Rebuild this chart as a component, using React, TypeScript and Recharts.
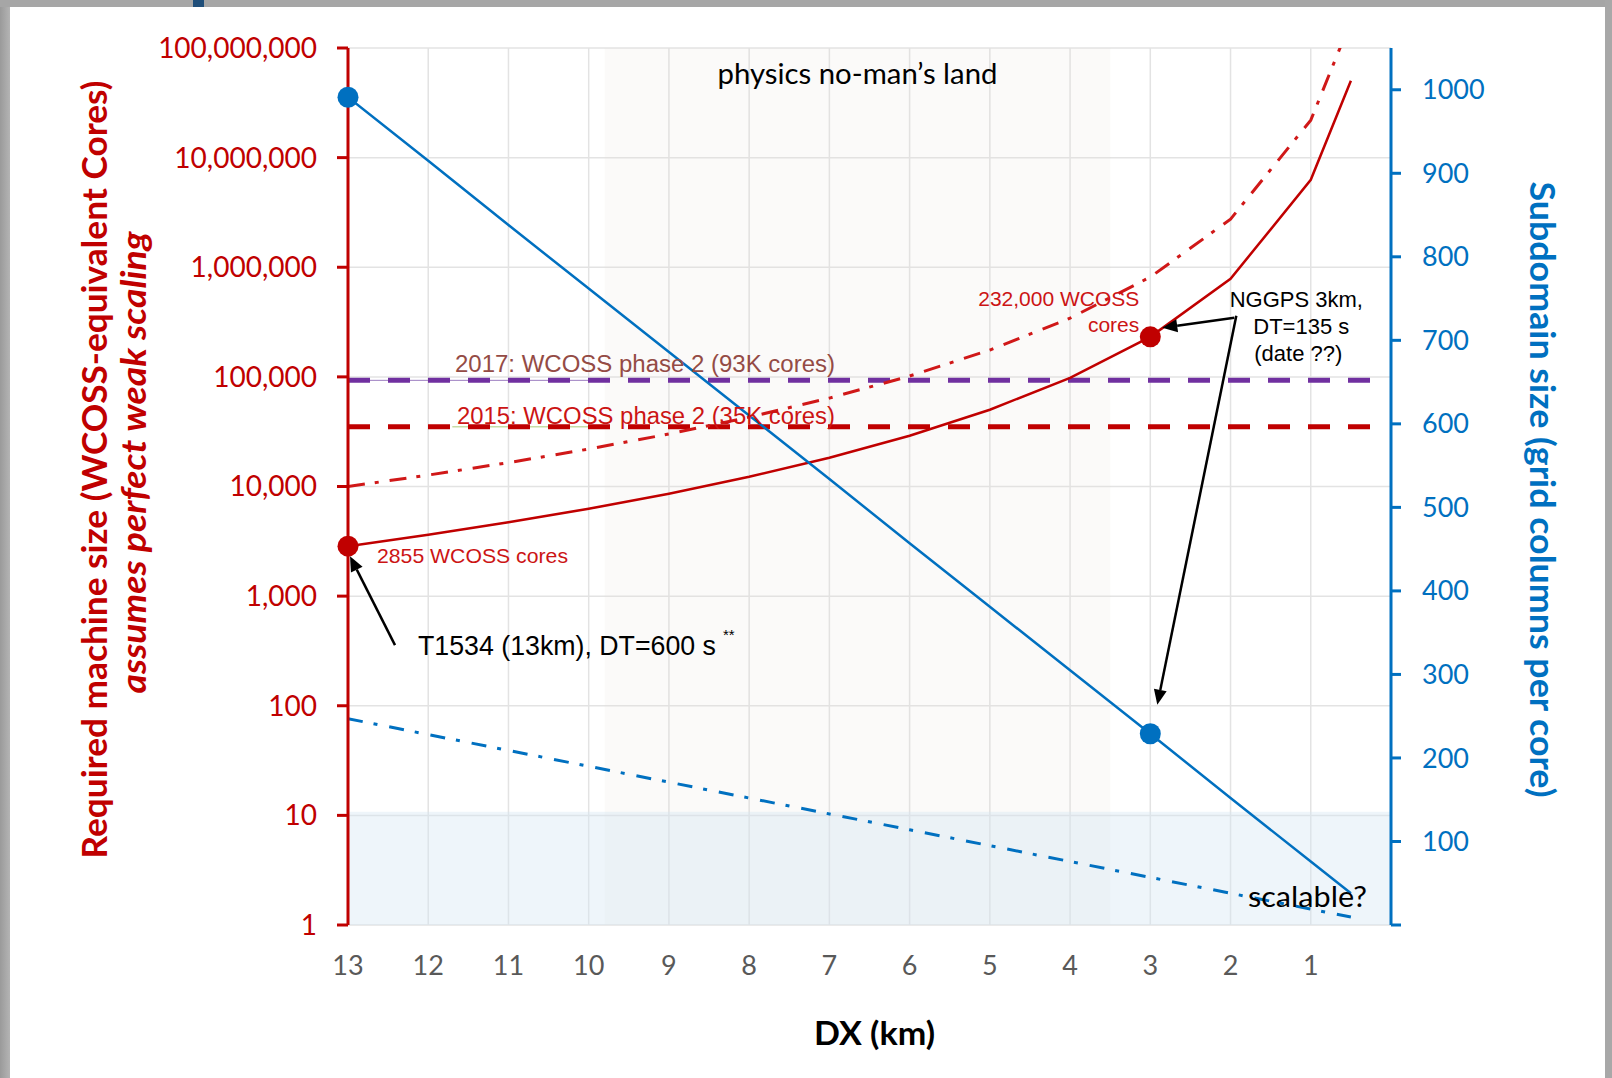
import React from 'react';
import {
  ComposedChart,
  Line,
  XAxis,
  YAxis,
  CartesianGrid,
  ReferenceArea,
  ReferenceLine,
  ReferenceDot,
} from 'recharts';

// ---------- data ----------
const DX = [13, 12, 11, 10, 9, 8, 7, 6, 5, 4, 3, 2, 1, 0.5];
const CORES = [2855, 3630, 4713, 6272, 8604, 12251, 18287, 29039, 50180, 98011, 232000, 784000, 6272000, 50180000];
const CORES_UPPER = [10000, 12714, 16506, 21970, 30137, 42910, 64050, 101710, 175760, 343300, 813700, 2746000, 21970000, 175760000];
const SUBDOMAIN = [991, 915, 838, 762, 686, 610, 534, 457, 381, 305, 229, 152, 76, 38];
const SUBDOMAIN_LOW = [247, 228, 209, 190, 171, 152, 133, 114, 95, 76, 57, 38, 19, 9.5];

const X_TICKS = [13, 12, 11, 10, 9, 8, 7, 6, 5, 4, 3, 2, 1];
const LEFT_TICKS = [1, 10, 100, 1000, 10000, 100000, 1000000, 10000000, 100000000];
const RIGHT_TICKS = [0, 100, 200, 300, 400, 500, 600, 700, 800, 900, 1000];

const WCOSS_2017 = 93000;
const WCOSS_2015 = 35000;
const LIMIT_SPAN = [13, 0.25];
const NO_MANS_LAND = [9.8, 3.5];
const SCALABLE_TOP = 10.8;

// ---------- styles ----------
const RED = '#C00000';
const NOTE_RED = '#CC1414';
const BLUE = '#0070C0';
const PURPLE = '#7030A0';
const CAL = "Lato, 'Open Sans', sans-serif";
const ARIAL = "'Liberation Sans', Arial, sans-serif";

const rows = DX.map((dx, i) => ({
  dx,
  cores: CORES[i],
  coresUpper: CORES_UPPER[i],
  sub: SUBDOMAIN[i],
  subLow: SUBDOMAIN_LOW[i],
}));

const arrowShape = (cx: number, cy: number, s: [number, number], t: [number, number]) => {
  const x1 = cx + s[0];
  const y1 = cy + s[1];
  const x2 = cx + t[0];
  const y2 = cy + t[1];
  const a = Math.atan2(y2 - y1, x2 - x1);
  const L = 15;
  const W = 6.5;
  const bx = x2 - L * Math.cos(a);
  const by = y2 - L * Math.sin(a);
  const px = -Math.sin(a) * W;
  const py = Math.cos(a) * W;
  return (
    <g>
      <line x1={x1} y1={y1} x2={bx} y2={by} stroke="#000" strokeWidth={2.5} />
      <polygon points={`${x2},${y2} ${bx + px},${by + py} ${bx - px},${by - py}`} fill="#000" />
    </g>
  );
};

const anchor = (
  key: string,
  x: number,
  y: number,
  axis: string,
  render: (cx: number, cy: number) => React.ReactElement,
) => (
  <ReferenceDot
    key={key}
    x={x}
    y={y}
    yAxisId={axis}
    r={1}
    fill="none"
    stroke="none"
    ifOverflow="visible"
    shape={(p: any) => render(p.cx, p.cy)}
  />
);

const LeftTitle = (props: any) => {
  const vb = props.viewBox || { x: 0, y: 48, width: 348, height: 877 };
  const cy1 = vb.y + vb.height / 2 - 17;
  const cy2 = vb.y + vb.height / 2 - 24;
  const x1 = vb.x + 107;
  const x2 = vb.x + 146;
  return (
    <g>
      <text
        x={x1}
        y={cy1}
        transform={`rotate(-90, ${x1}, ${cy1})`}
        textAnchor="middle"
        fill={RED}
        fontFamily={CAL}
        fontWeight={700}
        fontSize={34}
        textLength={778}
        lengthAdjust="spacingAndGlyphs"
      >
        Required machine size (WCOSS-equivalent Cores)
      </text>
      <text
        x={x2}
        y={cy2}
        transform={`rotate(-90, ${x2}, ${cy2})`}
        textAnchor="middle"
        fill={RED}
        fontFamily={CAL}
        fontWeight={700}
        fontStyle="italic"
        fontSize={34}
        textLength={462}
        lengthAdjust="spacingAndGlyphs"
      >
        assumes perfect weak scaling
      </text>
    </g>
  );
};

const RightTitle = (props: any) => {
  const vb = props.viewBox || { x: 1391, y: 48, width: 221, height: 877 };
  const cy = vb.y + vb.height / 2 + 3;
  const x = vb.x + 139;
  return (
    <text
      x={x}
      y={cy}
      transform={`rotate(90, ${x}, ${cy})`}
      textAnchor="middle"
      fill={BLUE}
      fontFamily={CAL}
      fontWeight={700}
      fontSize={34}
      textLength={616}
      lengthAdjust="spacingAndGlyphs"
    >
      Subdomain size (grid columns per core)
    </text>
  );
};

const XTitle = (props: any) => {
  const vb = props.viewBox || { x: 348, y: 925, width: 1043, height: 60 };
  return (
    <text
      x={vb.x + vb.width / 2 + 5}
      y={vb.y + 120}
      textAnchor="middle"
      fill="#000"
      fontFamily={CAL}
      fontWeight={700}
      fontSize={32}
      textLength={121}
      lengthAdjust="spacingAndGlyphs"
    >
      DX (km)
    </text>
  );
};

export default function App() {
  return (
    <div style={{ position: 'absolute', left: 0, top: 0, width: 1612, height: 1078, background: '#fff' }}>
      <ComposedChart
        width={1612}
        height={1078}
        data={rows}
        margin={{ top: 48, right: 0, bottom: 93, left: 0 }}
      >
        <CartesianGrid yAxisId="left" stroke="#E3E3E3" strokeWidth={1.5} />
        <XAxis
          dataKey="dx"
          type="number"
          domain={[0, 13]}
          reversed
          ticks={X_TICKS}
          allowDataOverflow
          axisLine={false}
          tickLine={false}
          height={60}
          tickMargin={25}
          tick={{ fill: '#595959', fontSize: 27, fontFamily: CAL }}
          label={{ content: (p: any) => <XTitle {...p} /> }}
        />
        <YAxis
          yAxisId="left"
          scale="log"
          domain={[1, 100000000]}
          ticks={LEFT_TICKS}
          allowDataOverflow
          width={348}
          axisLine={{ stroke: RED, strokeWidth: 3 }}
          tickLine={{ stroke: RED, strokeWidth: 3 }}
          tickSize={11}
          tickMargin={20}
          tick={{ fill: RED, fontSize: 28, fontFamily: CAL }}
          tickFormatter={(v: number) => v.toLocaleString('en-US')}
          label={{ content: (p: any) => <LeftTitle {...p} /> }}
        />
        <YAxis
          yAxisId="right"
          orientation="right"
          domain={[0, 1050]}
          ticks={RIGHT_TICKS}
          allowDataOverflow
          width={221}
          axisLine={{ stroke: BLUE, strokeWidth: 3 }}
          tickLine={{ stroke: BLUE, strokeWidth: 3 }}
          tickSize={10}
          tickMargin={21}
          tick={{ fill: BLUE, fontSize: 27, fontFamily: CAL }}
          tickFormatter={(v: number) => (v === 0 ? '' : String(v))}
          label={{ content: (p: any) => <RightTitle {...p} /> }}
        />

        <ReferenceArea
          yAxisId="left"
          x1={NO_MANS_LAND[0]}
          x2={NO_MANS_LAND[1]}
          y1={1}
          y2={100000000}
          fill="#E6DDD6"
          fillOpacity={0.14}
          stroke="none"
        />
        <ReferenceArea
          yAxisId="left"
          x1={13}
          x2={0}
          y1={1}
          y2={SCALABLE_TOP}
          fill="#D4E6F3"
          fillOpacity={0.4}
          stroke="none"
        />

        <ReferenceLine
          yAxisId="left"
          segment={[{ x: 13, y: WCOSS_2017 }, { x: 10, y: WCOSS_2017 }]}
          stroke="#9C7CC0"
          strokeWidth={1}
        />
        <ReferenceLine
          yAxisId="left"
          segment={[{ x: 11.7, y: WCOSS_2015 }, { x: 10, y: WCOSS_2015 }]}
          stroke="#C6DDA8"
          strokeWidth={1.5}
        />
        <ReferenceLine
          yAxisId="left"
          segment={[{ x: LIMIT_SPAN[0], y: WCOSS_2017 }, { x: LIMIT_SPAN[1], y: WCOSS_2017 }]}
          stroke={PURPLE}
          strokeWidth={5}
          strokeDasharray="22 18"
        />
        <ReferenceLine
          yAxisId="left"
          segment={[{ x: LIMIT_SPAN[0], y: WCOSS_2015 }, { x: LIMIT_SPAN[1], y: WCOSS_2015 }]}
          stroke={RED}
          strokeWidth={5}
          strokeDasharray="22 18"
        />

        <Line
          yAxisId="left"
          type="linear"
          dataKey="coresUpper"
          stroke="#D01818"
          strokeWidth={3}
          strokeDasharray="17 10 4 11"
          dot={false}
          activeDot={false}
          isAnimationActive={false}
        />
        <Line
          yAxisId="left"
          type="linear"
          dataKey="cores"
          stroke={RED}
          strokeWidth={2.5}
          dot={false}
          activeDot={false}
          isAnimationActive={false}
        />
        <Line
          yAxisId="right"
          type="linear"
          dataKey="subLow"
          stroke={BLUE}
          strokeWidth={3}
          strokeDasharray="15 11 4 12"
          dot={false}
          activeDot={false}
          isAnimationActive={false}
        />
        <Line
          yAxisId="right"
          type="linear"
          dataKey="sub"
          stroke={BLUE}
          strokeWidth={2.5}
          dot={false}
          activeDot={false}
          isAnimationActive={false}
        />

        <ReferenceDot yAxisId="left" x={DX[0]} y={CORES[0]} r={10.5} fill={RED} stroke="none" />
        <ReferenceDot yAxisId="left" x={DX[10]} y={CORES[10]} r={10.5} fill={RED} stroke="none" />
        <ReferenceDot yAxisId="right" x={DX[0]} y={SUBDOMAIN[0]} r={10.5} fill={BLUE} stroke="none" />
        <ReferenceDot yAxisId="right" x={DX[10]} y={SUBDOMAIN[10]} r={10.5} fill={BLUE} stroke="none" />

        {anchor('nml', (NO_MANS_LAND[0] + NO_MANS_LAND[1]) / 2, 100000000, 'left', (cx, cy) => (
          <text x={cx} y={cy + 36} textAnchor="middle" fill="#000" fontFamily={CAL} fontSize={28} textLength={280} lengthAdjust="spacingAndGlyphs">
            physics no-man’s land
          </text>
        ))}
        {anchor('l2017', 13, WCOSS_2017, 'left', (cx, cy) => (
          <text x={cx + 107} y={cy - 8} fill="#944B45" fontFamily={ARIAL} fontSize={23} textLength={380} lengthAdjust="spacingAndGlyphs">
            2017: WCOSS phase 2 (93K cores)
          </text>
        ))}
        {anchor('l2015', 13, WCOSS_2015, 'left', (cx, cy) => (
          <text x={cx + 109} y={cy - 3} fill={NOTE_RED} fontFamily={ARIAL} fontSize={23} textLength={378} lengthAdjust="spacingAndGlyphs">
            2015: WCOSS phase 2 (35K cores)
          </text>
        ))}
        {anchor('c2855', DX[0], CORES[0], 'left', (cx, cy) => (
          <text x={cx + 29} y={cy + 17} fill={NOTE_RED} fontFamily={ARIAL} fontSize={21} textLength={191} lengthAdjust="spacingAndGlyphs">
            2855 WCOSS cores
          </text>
        ))}
        {anchor('c232', DX[10], CORES[10], 'left', (cx, cy) => (
          <g>
            <text x={cx - 11} y={cy - 31} textAnchor="end" fill={NOTE_RED} fontFamily={ARIAL} fontSize={21}>
              232,000 WCOSS
            </text>
            <text x={cx - 11} y={cy - 5} textAnchor="end" fill={NOTE_RED} fontFamily={ARIAL} fontSize={21}>
              cores
            </text>
          </g>
        ))}
        {anchor('t1534', DX[0], CORES[0], 'left', (cx, cy) => (
          <g>
            <text x={cx + 70} y={cy + 109} fill="#000" fontFamily={ARIAL} fontSize={27} textLength={298} lengthAdjust="spacingAndGlyphs">
              T1534 (13km), DT=600 s
            </text>
            <text x={cx + 375} y={cy + 94} fill="#000" fontFamily={ARIAL} fontSize={15}>
              **
            </text>
          </g>
        ))}
        {anchor('nggps', DX[10], CORES[10], 'left', (cx, cy) => (
          <g fontFamily={ARIAL} fontSize={22} fill="#000" textAnchor="middle" style={{ whiteSpace: 'pre' }}>
            <text x={cx + 146} y={cy - 30}>NGGPS  3km,</text>
            <text x={cx + 151} y={cy - 3}>DT=135  s</text>
            <text x={cx + 148} y={cy + 24}>(date  ??)</text>
          </g>
        ))}
        {anchor('scal', 0, 1, 'left', (cx, cy) => (
          <text x={cx - 24} y={cy - 18} textAnchor="end" fill="#000" fontFamily={CAL} fontSize={29} textLength={119} lengthAdjust="spacingAndGlyphs">
            scalable?
          </text>
        ))}

        {anchor('arrA', DX[0], CORES[0], 'left', (cx, cy) => arrowShape(cx, cy, [47, 99], [2, 10]))}
        {anchor('arrB', DX[10], CORES[10], 'left', (cx, cy) => arrowShape(cx, cy, [84, -19], [12, -9]))}
        {anchor('arrC', DX[10], SUBDOMAIN[10], 'right', (cx, cy) => arrowShape(cx, cy, [86, -418], [7, -29]))}
      </ComposedChart>

      <div style={{ position: 'absolute', left: 0, top: 0, width: 10, height: 1078, background: 'linear-gradient(to right, #9A9A9A, #B4B4B4)' }} />
      <div style={{ position: 'absolute', left: 0, top: 0, width: 1612, height: 7, background: '#A6A6A6' }} />
      <div style={{ position: 'absolute', left: 1605, top: 0, width: 7, height: 1078, background: '#A8A8A8' }} />
      <div style={{ position: 'absolute', left: 193, top: 0, width: 11, height: 7, background: '#1F4E79' }} />
    </div>
  );
}
